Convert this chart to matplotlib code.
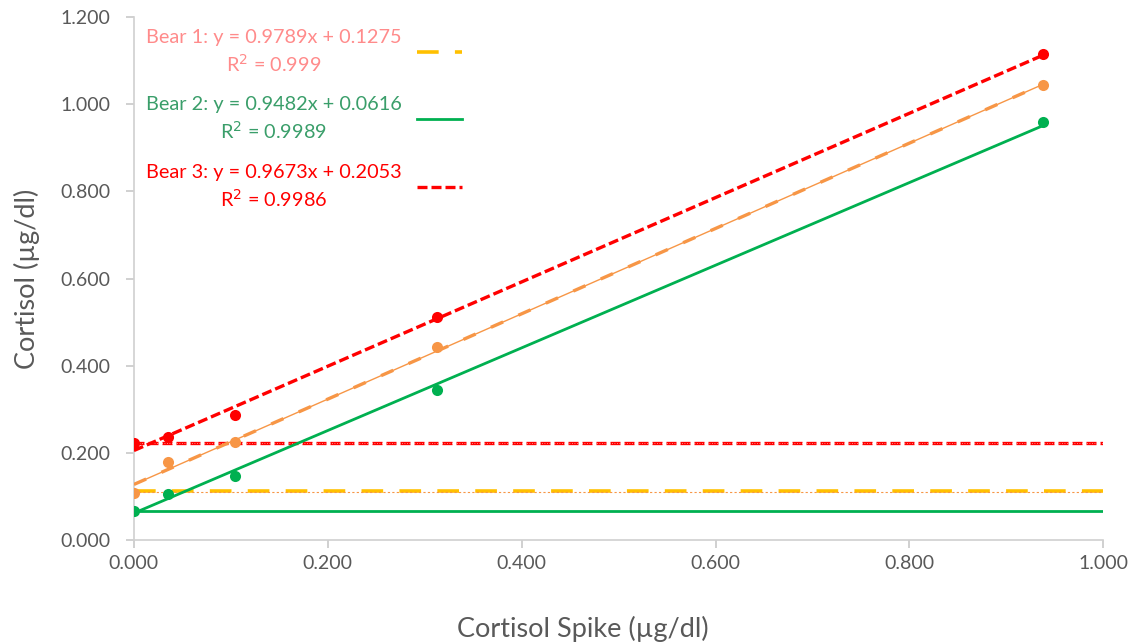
import numpy as np
import matplotlib
matplotlib.use("Agg")
import matplotlib.pyplot as plt

plt.rcParams['font.family'] = ['Lato', 'DejaVu Sans']

# Spike concentrations (x) and measured cortisol (y) for each bear
spike = [0.0, 0.0347, 0.104, 0.3125, 0.9375]
bear1 = [0.108, 0.179, 0.225, 0.443, 1.044]
bear2 = [0.067, 0.106, 0.147, 0.344, 0.959]
bear3 = [0.223, 0.236, 0.287, 0.512, 1.115]

# Fitted trendlines (slope, intercept) as printed on the chart
fit1 = (0.9789, 0.1275)
fit2 = (0.9482, 0.0616)
fit3 = (0.9673, 0.2053)

# Baseline (unspiked) levels drawn across the chart
base1 = 0.113
base2 = 0.066
base3 = 0.223

labels = [
    "Bear 1: y = 0.9789x + 0.1275\nR$^2$ = 0.999",
    "Bear 2: y = 0.9482x + 0.0616\nR$^2$ = 0.9989",
    "Bear 3: y = 0.9673x + 0.2053\nR$^2$ = 0.9986",
]

orange = "#F79646"
yellow = "#FFC000"
green = "#00B050"
red = "#FF0000"
gray = "#595959"

fig = plt.figure(figsize=(11.35, 6.44), dpi=100)
ax = fig.add_axes([0.118, 0.1615, 0.854, 0.812])

xline = np.array([spike[0], spike[-1]])
xfull = np.array([0.0, 1.0])

# baselines
h1, = ax.plot(xfull, [base1, base1], color=yellow, lw=2.6, dashes=(6, 4.5), zorder=2)
ax.plot(xfull, [base1 - 0.004] * 2, color=orange, lw=0.8, dashes=(2, 2), zorder=3)
h2, = ax.plot(xfull, [base2, base2], color=green, lw=2.0, zorder=2)
h3, = ax.plot(xfull, [base3, base3], color=red, lw=2.4, dashes=(3, 1.2), zorder=2)
ax.plot(xfull, [base3, base3], color="white", lw=0.6, dashes=(1, 2), zorder=3, alpha=0.7)

# trendlines
ax.plot(xline, fit1[0] * xline + fit1[1], color=orange, lw=1.0, zorder=3)
ax.plot(xline, fit1[0] * xline + fit1[1], color=orange, lw=2.4, dashes=(4, 5), zorder=3)
ax.plot(xline, fit2[0] * xline + fit2[1], color=green, lw=2.0, zorder=3)
ax.plot(xline, fit3[0] * xline + fit3[1], color=red, lw=2.4, dashes=(3, 1.2), zorder=3)

# data points
ax.scatter(spike, bear1, s=64, color=orange, zorder=4, linewidths=0)
ax.scatter(spike, bear2, s=64, color=green, zorder=4, linewidths=0)
ax.scatter(spike, bear3, s=64, color=red, zorder=4, linewidths=0)

leg = ax.legend([h1, h2, h3], labels, loc="upper left", bbox_to_anchor=(0.0124, 0.977),
                frameon=False, markerfirst=False, fontsize=14.3, handlelength=2.3,
                labelspacing=1.1, handletextpad=0.75, borderaxespad=0.0,
                borderpad=0.0, labelcolor=["#FF8B8B", "#3A9E6A", red])
for t in leg.get_texts():
    t.set_multialignment("center")
    t.set_linespacing(1.35)

ax.set_xlim(0, 1.0)
ax.set_ylim(0, 1.2)
ax.set_xticks(np.arange(0, 1.01, 0.2))
ax.set_yticks(np.arange(0, 1.21, 0.2))
ax.xaxis.set_major_formatter(plt.FormatStrFormatter("%.3f"))
ax.yaxis.set_major_formatter(plt.FormatStrFormatter("%.3f"))

for side in ["top", "right"]:
    ax.spines[side].set_visible(False)
for side in ["left", "bottom"]:
    ax.spines[side].set_color("#D0D0D0")
    ax.spines[side].set_linewidth(1.2)
ax.tick_params(colors="#C8C8C8", labelcolor=gray, labelsize=14, length=6, width=1.2, pad=5)
ax.tick_params(axis="y", pad=11)

ax.set_xlabel("Cortisol Spike (µg/dl)", fontsize=19.5, color=gray)
ax.set_ylabel("Cortisol (µg/dl)", fontsize=19.5, color=gray)
ax.xaxis.set_label_coords(0.463, -0.145)
ax.yaxis.set_label_coords(-0.097, 0.5)

fig.savefig("out.png", dpi=100)
